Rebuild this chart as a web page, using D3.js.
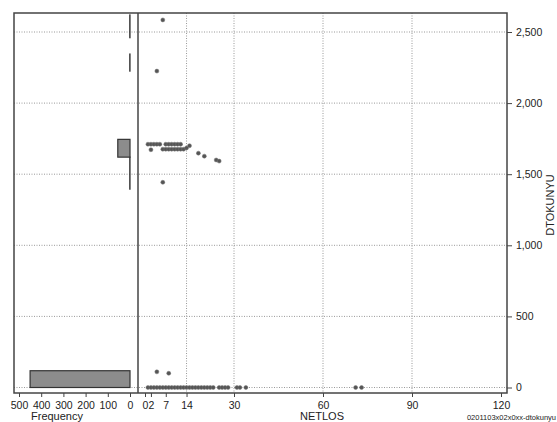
<!DOCTYPE html>
<html><head><meta charset="utf-8">
<script src="https://cdn.jsdelivr.net/npm/d3@7"></script>
<style>
body{margin:0;background:#fff;}
text{font-family:"Liberation Sans",Arial,sans-serif;fill:#222;}
</style></head>
<body><svg id="c" width="557" height="422"></svg>
<script>
// ---- data ----
const yTicks = [0, 500, 1000, 1500, 2000, 2500];
const xTicks = [0, 2, 7, 14, 30, 60, 90, 120];
const histTicks = [500, 400, 300, 200, 100, 0];
const xGrid = [14, 30, 60, 90];

const binLow   = [0, 1395, 1620, 2225, 2460];
const binHigh  = [118, 1620, 1745, 2345, 2620];
const binCount = [450, 1, 55, 1, 1];

const netlos = [
  1,2,3,4,5,6,7,8,9,10,11,12,13,14,15,16,17,18,19,20,21,22,23,25,26,27,28,31,32,34,71,73,
  4,8,
  1,2,3,4,5,7,8,9,10,11,12,
  6,7,8,9,10,11,12,13,
  2,14,15,18,20,24,25,
  6,6,4
];
const dtokunyu = [
  0,0,0,0,0,0,0,0,0,0,0,0,0,0,0,0,0,0,0,0,0,0,0,0,0,0,0,0,0,0,0,0,
  110,100,
  1711,1711,1711,1711,1711,1711,1711,1711,1711,1711,1711,
  1676,1676,1676,1676,1676,1676,1676,1676,
  1672,1685,1700,1648,1627,1600,1592,
  2585,1443,2225
];

// ---- layout ----
const svg = d3.select("#c");
const L = 14, T = 13, R = 507, B = 393, D = 138;
const y = d3.scaleLinear().domain([0, 2500]).range([387.5, 32]);
const x = d3.scaleLinear().domain([0, 120]).range([145, 501]);
const hx = d3.scaleLinear().domain([0, 500]).range([130, 19]);

// grid
const grid = svg.append("g").attr("stroke", "#999").attr("stroke-dasharray", "1,1.5").attr("stroke-width", 1);
yTicks.forEach(v => {
  grid.append("line").attr("x1", L).attr("x2", R).attr("y1", y(v)).attr("y2", y(v));
});
xGrid.forEach(v => {
  grid.append("line").attr("x1", x(v)).attr("x2", x(v)).attr("y1", T).attr("y2", B);
});

// histogram bars
svg.append("g").selectAll("rect").data(binCount).join("rect")
  .attr("x", (d) => hx(d))
  .attr("width", (d) => Math.max(hx(0) - hx(d), 0.01))
  .attr("y", (d, i) => y(binHigh[i]))
  .attr("height", (d, i) => y(binLow[i]) - y(binHigh[i]))
  .attr("fill", "#8c8c8c").attr("stroke", "#333").attr("stroke-width", 1.2);

// points
svg.append("g").selectAll("circle").data(netlos).join("circle")
  .attr("cx", (d) => x(d)).attr("cy", (d, i) => y(dtokunyu[i])).attr("r", 2)
  .attr("fill", "#555").attr("stroke", "#777").attr("stroke-width", 0.5);

// frame
svg.append("rect").attr("x", L).attr("y", T).attr("width", R - L).attr("height", B - T)
  .attr("fill", "none").attr("stroke", "#444").attr("stroke-width", 1.5);
svg.append("line").attr("x1", D).attr("x2", D).attr("y1", T).attr("y2", B)
  .attr("stroke", "#444").attr("stroke-width", 1.5);

// axes
function style(g) {
  g.select(".domain").remove();
  g.selectAll("line").attr("stroke", "#444");
  g.selectAll("text").attr("font-size", "10.5px").attr("fill", "#222")
    .style("font-family", "Liberation Sans, Arial, sans-serif");
}
svg.append("g").attr("transform", `translate(${R},0)`)
  .call(d3.axisRight(y).tickValues(yTicks).tickFormat(d3.format(",")).tickSize(5).tickPadding(4))
  .call(style);
svg.append("g").attr("transform", `translate(0,${B})`)
  .call(d3.axisBottom(x).tickValues(xTicks).tickFormat(d3.format("d")).tickSize(4).tickPadding(5))
  .call(style);
svg.append("g").attr("transform", `translate(0,${B})`)
  .call(d3.axisBottom(hx).tickValues(histTicks).tickFormat(d3.format("d")).tickSize(4).tickPadding(5))
  .call(style);

// titles
svg.append("text").attr("x", 57).attr("y", 420).attr("text-anchor", "middle")
  .attr("font-size", "11px").text("Frequency");
svg.append("text").attr("x", 322).attr("y", 420).attr("text-anchor", "middle")
  .attr("font-size", "11px").text("NETLOS");
svg.append("text").attr("transform", "translate(554,205) rotate(-90)").attr("text-anchor", "middle")
  .attr("font-size", "11px").text("DTOKUNYU");
svg.append("text").attr("x", 556).attr("y", 420).attr("text-anchor", "end")
  .attr("font-size", "7.5px").text("0201103x02x0xx-dtokunyu");
</script></body></html>
